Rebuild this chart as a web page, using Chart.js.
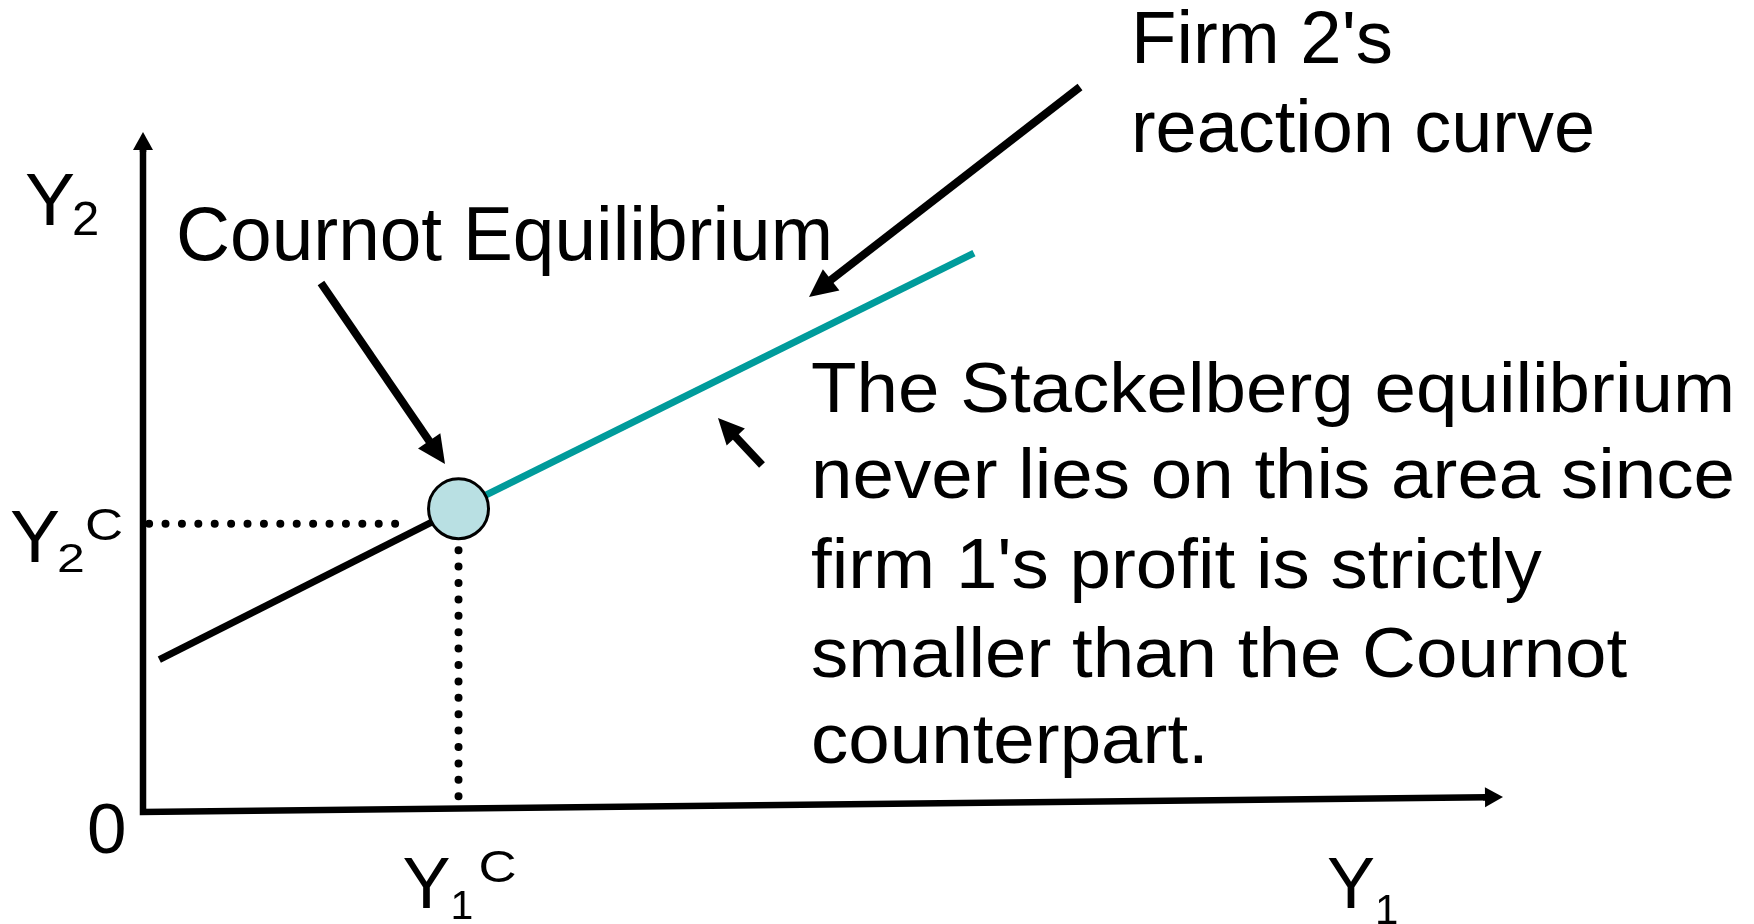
<!DOCTYPE html>
<html>
<head>
<meta charset="utf-8">
<script src="https://cdn.jsdelivr.net/npm/chart.js@4/dist/chart.umd.min.js"></script>
<style>
  html, body { margin: 0; padding: 0; background: #fff; }
  canvas { display: block; }
</style>
</head>
<body>
<canvas id="cournot" width="1754" height="924"></canvas>
<script>
// Firm 2's reaction curve (Y1, Y2); the middle point is the Cournot equilibrium
const reactionY1 = [1.2, 23.2, 61.1];
const reactionY2 = [22.4, 44.6, 82.2];
const cournotY1 = 23.2;
const cournotY2 = 44.6;
// dotted guides down to the axes
const guideY2 = 42.4;
const guideY2Start = 0.45;
const guideY2End = 19.7;
const guideY1Top = 38.5;
// axes
const axisMax = 100;
const xAxisRise = 2.2;

const FONT = '"Liberation Sans", Arial, Helvetica, sans-serif';
const TEAL = "#009b9b";

function drawArrow(c, x1, y1, x2, y2, lw, headLen, headW) {
  const ang = Math.atan2(y2 - y1, x2 - x1);
  const bx = x2 - headLen * Math.cos(ang);
  const by = y2 - headLen * Math.sin(ang);
  c.strokeStyle = "#000";
  c.fillStyle = "#000";
  c.lineWidth = lw;
  c.lineCap = "butt";
  c.beginPath();
  c.moveTo(x1, y1);
  c.lineTo(bx + Math.cos(ang), by + Math.sin(ang));
  c.stroke();
  const nx = -Math.sin(ang) * headW / 2;
  const ny = Math.cos(ang) * headW / 2;
  c.beginPath();
  c.moveTo(x2, y2);
  c.lineTo(bx + nx, by + ny);
  c.lineTo(bx - nx, by - ny);
  c.closePath();
  c.fill();
}

function drawText(c, str, x, y, size, sx) {
  c.font = size + "px " + FONT;
  c.save();
  c.translate(x, y);
  c.scale(sx || 1, 1);
  c.fillText(str, 0, 0);
  c.restore();
}

function fitScale(c, str, size, width) {
  c.font = size + "px " + FONT;
  return width / c.measureText(str).width;
}

const axesPlugin = {
  id: "axesPlugin",
  beforeDatasetsDraw(chart) {
    const c = chart.ctx;
    const xs = chart.scales.x;
    const ys = chart.scales.y;
    const ox = xs.getPixelForValue(0);
    const oy = ys.getPixelForValue(0);
    const topY = ys.getPixelForValue(axisMax);
    const endX = xs.getPixelForValue(axisMax);
    const endY = ys.getPixelForValue(xAxisRise);
    c.save();
    c.strokeStyle = "#000";
    c.lineWidth = 6.5;
    c.lineJoin = "miter";
    c.beginPath();
    c.moveTo(ox, topY + 16);
    c.lineTo(ox, oy);
    c.lineTo(endX - 16, endY + 0.2);
    c.stroke();
    drawArrow(c, ox, topY + 20, ox, topY, 6.5, 18, 20);
    drawArrow(c, endX - 20, endY + 0.2, endX, endY, 6.5, 18, 20);
    c.restore();
  },
  afterDatasetsDraw(chart) {
    const c = chart.ctx;
    const xs = chart.scales.x;
    const ys = chart.scales.y;
    c.save();
    // callout arrows
    drawArrow(c, 321, 283, 445, 464, 8, 28, 27);
    drawArrow(c, 1080, 87, 809, 297, 8, 28, 27);
    drawArrow(c, 762, 465, 718, 418, 8, 26, 25);

    c.fillStyle = "#000";
    c.textBaseline = "alphabetic";
    // axis labels
    drawText(c, "Y", 25, 225, 75);
    drawText(c, "2", 72, 235, 49);
    drawText(c, "0", 87, 853, 71);
    const gy = ys.getPixelForValue(guideY2);
    drawText(c, "Y", 10, gy + 38, 75);
    drawText(c, "2", 57, gy + 48, 40, 1.25);
    drawText(c, "C", 85, gy + 16, 44, 1.2);
    const cx = xs.getPixelForValue(cournotY1);
    drawText(c, "Y", cx - 56, 908, 72);
    drawText(c, "1", cx - 8, 919, 41);
    drawText(c, "C", cx + 20, 882, 44, 1.2);
    drawText(c, "Y", 1327, 908, 72);
    drawText(c, "1", 1375, 924, 42);

    // annotations
    drawText(c, "Cournot Equilibrium", 176, 260, 76, fitScale(c, "Cournot Equilibrium", 76, 657));
    drawText(c, "Firm 2's", 1131, 63, 74, fitScale(c, "Firm 2's", 74, 262));
    drawText(c, "reaction curve", 1131, 152, 74, fitScale(c, "reaction curve", 74, 464));
    const para = [
      "The Stackelberg equilibrium",
      "never lies on this area since",
      "firm 1's profit is strictly",
      "smaller than the Cournot",
      "counterpart.",
    ];
    const baselines = [412, 498, 588, 677, 763];
    const psx = fitScale(c, para[0], 71, 924);
    para.forEach((line, i) => drawText(c, line, 811, baselines[i], 71, psx));
    c.restore();
  },
};

const ctx = document.getElementById("cournot").getContext("2d");
new Chart(ctx, {
  type: "scatter",
  data: {
    datasets: [
      {
        label: "Cournot equilibrium",
        data: [{ x: cournotY1, y: cournotY2 }],
        pointRadius: 30,
        pointBackgroundColor: "#b9e0e3",
        pointBorderColor: "#000",
        pointBorderWidth: 3,
        clip: false,
      },
      {
        label: "Reaction curve (upper)",
        data: [
          { x: reactionY1[1], y: reactionY2[1] },
          { x: reactionY1[2], y: reactionY2[2] },
        ],
        showLine: true,
        borderColor: TEAL,
        borderWidth: 7,
        pointRadius: 0,
        clip: false,
      },
      {
        label: "Reaction curve (lower)",
        data: [
          { x: reactionY1[0], y: reactionY2[0] },
          { x: reactionY1[1], y: reactionY2[1] },
        ],
        showLine: true,
        borderColor: "#000",
        borderWidth: 7,
        pointRadius: 0,
        clip: false,
      },
      {
        label: "Y2 guide",
        data: [
          { x: guideY2Start, y: guideY2 },
          { x: guideY2End, y: guideY2 },
        ],
        showLine: true,
        borderColor: "#000",
        borderWidth: 8,
        borderDash: [0, 16.4],
        borderCapStyle: "round",
        pointRadius: 0,
        clip: false,
      },
      {
        label: "Y1 guide",
        data: [
          { x: cournotY1, y: guideY1Top },
          { x: cournotY1, y: 0 },
        ],
        showLine: true,
        borderColor: "#000",
        borderWidth: 8,
        borderDash: [0, 16.4],
        borderCapStyle: "round",
        pointRadius: 0,
        clip: false,
      },
    ],
  },
  options: {
    responsive: false,
    animation: false,
    devicePixelRatio: 1,
    events: [],
    layout: { padding: { left: 143, right: 251, top: 132, bottom: 112 } },
    scales: {
      x: { type: "linear", min: 0, max: axisMax, display: false },
      y: { type: "linear", min: 0, max: axisMax, display: false },
    },
    plugins: {
      legend: { display: false },
      tooltip: { enabled: false },
    },
  },
  plugins: [axesPlugin],
});
</script>
</body>
</html>
